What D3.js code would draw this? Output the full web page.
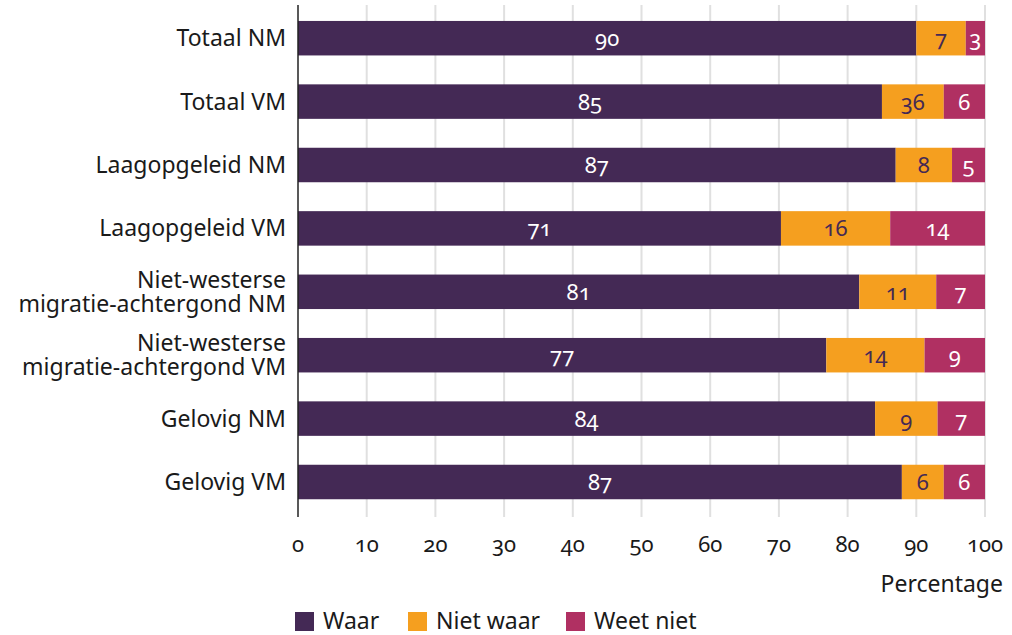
<!DOCTYPE html>
<html>
<head>
<meta charset="utf-8">
<script src="https://cdn.jsdelivr.net/npm/d3@7"></script>
<style>
	body { margin: 0; background: #fff; }
	text { font-family: 'Noto Sans', sans-serif; font-feature-settings: 'onum'; }
</style>
</head>
<body>
<script>
// data
var categories = [
	'Totaal NM',
	'Totaal VM',
	'Laagopgeleid NM',
	'Laagopgeleid VM',
	'Niet-westerse|migratie-achtergond NM',
	'Niet-westerse|migratie-achtergond VM',
	'Gelovig NM',
	'Gelovig VM'
];
var series = ['Waar', 'Niet waar', 'Weet niet'];
var waar = [90, 85, 87, 70.3, 81.7, 76.9, 84, 87.9];
var nietWaar = [7.2, 9, 8.2, 15.9, 11.2, 14.3, 9.1, 6.1];
var weetNiet = [2.8, 6, 4.8, 13.8, 7.1, 8.8, 6.9, 6];
// labels as printed in the source
var waarLabels = ['90', '85', '87', '71', '81', '77', '84', '87'];
var nietWaarLabels = ['7', '36', '8', '16', '11', '14', '9', '6'];
var weetNietLabels = ['3', '6', '5', '14', '7', '9', '7', '6'];
var xTicks = [0, 10, 20, 30, 40, 50, 60, 70, 80, 90, 100];

var colors = ['#442955', '#f59f1f', '#b03062'];
var textColors = ['#ffffff', '#442955', '#ffffff'];

var width = 1012, height = 635;

var svg = d3.select('body')
	.append('svg')
	.attr('width', width)
	.attr('height', height);

var x = d3.scaleLinear().domain([0, 100]).range([298, 985]);
var y = d3.scaleBand()
	.domain(categories)
	.range([6.5, 513.7])
	.paddingInner(0.456)
	.paddingOuter(0.228);

// grid
svg.append('g')
	.selectAll('line')
	.data(xTicks.slice(1))
	.enter()
	.append('line')
	.attr('x1', function (d) { return x(d); })
	.attr('x2', function (d) { return x(d); })
	.attr('y1', 5)
	.attr('y2', 517)
	.attr('stroke', '#e0e0e0')
	.attr('stroke-width', 2);

// stacked data
var rows = categories.map(function (c, i) {
	return { cat: c, vals: [waar[i], nietWaar[i], weetNiet[i]], labels: [waarLabels[i], nietWaarLabels[i], weetNietLabels[i]] };
});

var segs = [];
rows.forEach(function (r) {
	var acc = 0;
	r.vals.forEach(function (v, k) {
		segs.push({ cat: r.cat, x0: acc, x1: acc + v, k: k, label: r.labels[k] });
		acc += v;
	});
});

svg.append('g')
	.selectAll('rect')
	.data(segs)
	.enter()
	.append('rect')
	.attr('x', function (d) { return x(d.x0); })
	.attr('width', function (d) { return x(d.x1) - x(d.x0); })
	.attr('y', function (d) { return y(d.cat); })
	.attr('height', y.bandwidth())
	.attr('fill', function (d) { return colors[d.k]; });

svg.append('g')
	.selectAll('text')
	.data(segs)
	.enter()
	.append('text')
	.attr('x', function (d) { return x((d.x0 + d.x1) / 2); })
	.attr('y', function (d) { return y(d.cat) + y.bandwidth() / 2 + 8; })
	.attr('text-anchor', 'middle')
	.attr('font-size', 22)
	.attr('fill', function (d) { return textColors[d.k]; })
	.text(function (d) { return d.label; });

// y axis line
svg.append('line')
	.attr('x1', x(0)).attr('x2', x(0))
	.attr('y1', 5).attr('y2', 517)
	.attr('stroke', '#222')
	.attr('stroke-width', 1.5);

// category labels
var catLabels = svg.append('g')
	.selectAll('text')
	.data(categories)
	.enter()
	.append('text')
	.attr('text-anchor', 'end')
	.attr('font-size', 23)
	.attr('fill', '#1a1a1a')
	.attr('y', function (d) { return y(d) + y.bandwidth() / 2; });

catLabels.each(function (d) {
	var parts = d.split('|');
	var t = d3.select(this);
	var start = parts.length === 1 ? 8 : -4;
	parts.forEach(function (p, i) {
		t.append('tspan')
			.attr('x', 286)
			.attr('dy', i === 0 ? start : 24)
			.text(p);
	});
});

// x axis labels
svg.append('g')
	.selectAll('text')
	.data(xTicks)
	.enter()
	.append('text')
	.attr('x', function (d) { return x(d); })
	.attr('y', 552)
	.attr('text-anchor', 'middle')
	.attr('font-size', 22)
	.attr('fill', '#1a1a1a')
	.text(function (d) { return d; });

svg.append('text')
	.attr('x', 1003)
	.attr('y', 592)
	.attr('text-anchor', 'end')
	.attr('font-size', 23)
	.attr('fill', '#1a1a1a')
	.text('Percentage');

// legend
var legendX = [295, 408, 566];
var legend = svg.append('g')
	.selectAll('g')
	.data(series)
	.enter()
	.append('g')
	.attr('transform', function (d, i) { return 'translate(' + legendX[i] + ',612)'; });

legend.append('rect')
	.attr('width', 19)
	.attr('height', 19)
	.attr('fill', function (d, i) { return colors[i]; });

legend.append('text')
	.attr('x', 28)
	.attr('y', 17)
	.attr('font-size', 23)
	.attr('fill', '#1a1a1a')
	.text(function (d) { return d; });
</script>
</body>
</html>
